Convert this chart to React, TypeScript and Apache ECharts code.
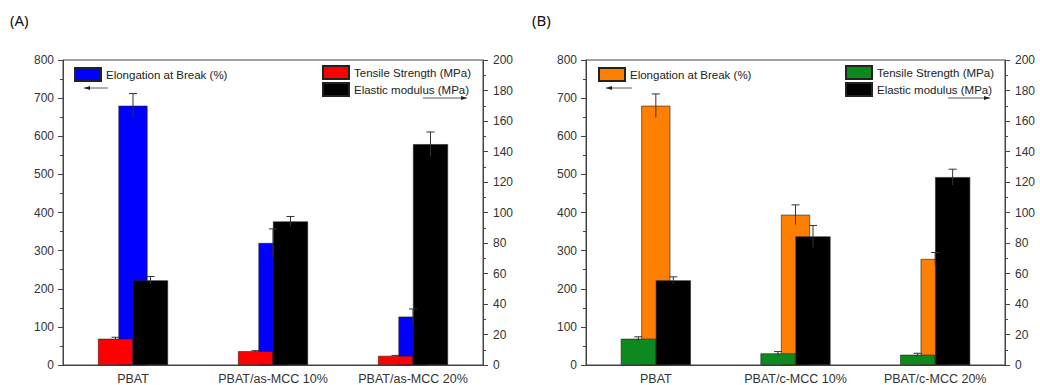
import React, { useEffect, useRef } from "react";
import * as echarts from "echarts";

const categoriesA = ["PBAT", "PBAT/as-MCC 10%", "PBAT/as-MCC 20%"];
const categoriesB = ["PBAT", "PBAT/c-MCC 10%", "PBAT/c-MCC 20%"];

const elongationA = [680, 320, 127];
const elongationAErr = [32, 37, 20];
const tensileA = [17.2, 9.0, 6.0];
const tensileAErr = [1.0, 0.4, 0.3];
const modulusA = [55.5, 94.1, 144.8];
const modulusAErr = [2.5, 3.3, 8.0];

const elongationB = [680, 394, 278];
const elongationBErr = [31, 26, 17];
const tensileB = [17.2, 7.6, 6.7];
const tensileBErr = [1.3, 1.2, 1.0];
const modulusB = [55.5, 84.3, 123.2];
const modulusBErr = [2.3, 7.2, 5.2];

const leftTicks = { min: 0, max: 800, interval: 100 };
const rightTicks = { min: 0, max: 200, interval: 20 };

const FONT = "Liberation Sans, Arial, sans-serif";
const AXIS_COLOR = "#444";
const TEXT_COLOR = "#333";

type PanelProps = {
  label: string;
  categories: string[];
  elong: number[];
  elongErr: number[];
  tensile: number[];
  tensileErr: number[];
  modulus: number[];
  modulusErr: number[];
  elongColor: string;
  tensileColor: string;
  gridLeft: number;
  gridRight: number;
  leg1Left: number;
  leg2Left: number;
  labelLeft: number;
  arrowL: [number, number];
  arrowR: [number, number];
  offsetLeft: number;
};

function errorSeries(
  values: number[],
  errs: number[],
  xAxisIndex: number,
  yAxisIndex: number,
  offset: number
) {
  return {
    type: "custom",
    xAxisIndex,
    yAxisIndex,
    z: 5,
    silent: true,
    encode: { x: 0, y: 1 },
    data: values.map((v, i) => [i, v, errs[i]]),
    renderItem: (params: any, api: any) => {
      const x = api.value(0);
      const y = api.value(1);
      const e = api.value(2);
      const top = api.coord([x, y + e]);
      const bot = api.coord([x, y - e]);
      const cx = top[0] + offset;
      const style = { stroke: "#333", lineWidth: 1 };
      return {
        type: "group",
        children: [
          { type: "line", shape: { x1: cx, y1: top[1], x2: cx, y2: bot[1] }, style },
          { type: "line", shape: { x1: cx - 4, y1: top[1], x2: cx + 4, y2: top[1] }, style },
        ],
      };
    },
  };
}

function arrow(x1: number, x2: number, y: number, dir: "left" | "right") {
  const tip = dir === "left" ? x1 : x2;
  const back = dir === "left" ? tip + 6 : tip - 6;
  return [
    {
      type: "line",
      shape: { x1, y1: y, x2, y2: y },
      style: { stroke: "#333", lineWidth: 0.8 },
      z: 10,
    },
    {
      type: "polygon",
      shape: { points: [[tip, y], [back, y - 2], [back, y + 2]] },
      style: { fill: "#222" },
      z: 10,
    },
  ];
}

function Panel(p: PanelProps) {
  const ref = useRef<HTMLDivElement>(null);
  useEffect(() => {
    if (!ref.current) return;
    const chart = echarts.init(ref.current, undefined, { renderer: "svg" });
    const axisLabel = { color: TEXT_COLOR, fontSize: 12, fontFamily: FONT };
    const border = { borderColor: "#222", borderWidth: 0.6 };
    const legendText = { color: "#222", fontSize: 11.5, fontFamily: FONT };
    chart.setOption({
      animation: false,
      backgroundColor: "#fff",
      grid: {
        left: p.gridLeft,
        right: p.gridRight,
        top: 60,
        bottom: 19.5,
        show: true,
        borderColor: AXIS_COLOR,
        borderWidth: 1,
      },
      legend: [
        {
          data: ["Elongation at Break (%)"],
          left: p.leg1Left,
          top: 67,
          padding: 0,
          itemWidth: 26,
          itemHeight: 13,
          itemGap: 2,
          icon: "rect",
          textStyle: legendText,
          selectedMode: false,
        },
        {
          data: ["Tensile Strength (MPa)", "Elastic modulus (MPa)"],
          orient: "vertical",
          left: p.leg2Left,
          top: 65,
          padding: 0,
          itemWidth: 26,
          itemHeight: 13,
          itemGap: 2,
          icon: "rect",
          textStyle: legendText,
          selectedMode: false,
        },
      ],
      graphic: [
        {
          type: "text",
          left: p.labelLeft,
          top: 12,
          style: { text: p.label, fontSize: 15, fontFamily: "Noto Sans, sans-serif", fill: "#111" },
        },
        ...arrow(p.arrowL[0], p.arrowL[1], 88, "left"),
        ...arrow(p.arrowR[0], p.arrowR[1], 98, "right"),
      ],
      xAxis: [
        {
          type: "category",
          data: p.categories,
          boundaryGap: true,
          axisTick: { show: false },
          axisLine: { lineStyle: { color: AXIS_COLOR, width: 1 } },
          axisLabel: { ...axisLabel, fontSize: 12.5, margin: 7, interval: 0, hideOverlap: false },
        },
        {
          type: "category",
          data: p.categories,
          show: false,
        },
      ],
      yAxis: [
        {
          type: "value",
          position: "left",
          ...leftTicks,
          splitLine: { show: false },
          axisLine: { show: true, lineStyle: { color: AXIS_COLOR } },
          axisTick: { show: true, length: 5, lineStyle: { color: AXIS_COLOR } },
          minorTick: { show: true, splitNumber: 2, length: 3, lineStyle: { color: AXIS_COLOR } },
          axisLabel: { ...axisLabel, margin: 9 },
        },
        {
          type: "value",
          position: "right",
          ...rightTicks,
          splitLine: { show: false },
          axisLine: { show: true, lineStyle: { color: AXIS_COLOR } },
          axisTick: { show: true, length: 5, lineStyle: { color: AXIS_COLOR } },
          minorTick: { show: true, splitNumber: 2, length: 3, lineStyle: { color: AXIS_COLOR } },
          axisLabel: { ...axisLabel, margin: 10 },
        },
      ],
      series: [
        {
          name: "Elongation at Break (%)",
          type: "bar",
          xAxisIndex: 1,
          yAxisIndex: 0,
          barWidth: 29,
          z: 1,
          data: p.elong,
          itemStyle: { color: p.elongColor, ...border },
        },
        {
          name: "Tensile Strength (MPa)",
          type: "bar",
          xAxisIndex: 0,
          yAxisIndex: 1,
          barWidth: 35,
          barGap: "0%",
          z: 2,
          data: p.tensile,
          itemStyle: { color: p.tensileColor, ...border },
        },
        {
          name: "Elastic modulus (MPa)",
          type: "bar",
          xAxisIndex: 0,
          yAxisIndex: 1,
          barWidth: 35,
          barGap: "0%",
          z: 2,
          data: p.modulus,
          itemStyle: { color: "#000", ...border },
        },
        errorSeries(p.elong, p.elongErr, 1, 0, 0),
        errorSeries(p.tensile, p.tensileErr, 0, 1, -17.5),
        errorSeries(p.modulus, p.modulusErr, 0, 1, 17.5),
      ],
    });
    return () => chart.dispose();
  }, []);
  return (
    <div
      ref={ref}
      style={{ position: "absolute", left: p.offsetLeft, top: 0, width: 520, height: 385 }}
    />
  );
}

export default function App() {
  return (
    <div style={{ position: "fixed", left: 0, top: 0, width: 1040, height: 385, background: "#fff" }}>
      <Panel
        label="(A)"
        categories={categoriesA}
        elong={elongationA}
        elongErr={elongationAErr}
        tensile={tensileA}
        tensileErr={tensileAErr}
        modulus={modulusA}
        modulusErr={modulusAErr}
        elongColor="#0000FF"
        tensileColor="#FF0000"
        gridLeft={63}
        gridRight={37}
        leg1Left={74}
        leg2Left={322}
        labelLeft={10}
        arrowL={[84, 108]}
        arrowR={[423, 467]}
        offsetLeft={0}
      />
      <Panel
        label="(B)"
        categories={categoriesB}
        elong={elongationB}
        elongErr={elongationBErr}
        tensile={tensileB}
        tensileErr={tensileBErr}
        modulus={modulusB}
        modulusErr={modulusBErr}
        elongColor="#FF8000"
        tensileColor="#0C8A1E"
        gridLeft={66}
        gridRight={35}
        leg1Left={78}
        leg2Left={325}
        labelLeft={12}
        arrowL={[86, 112]}
        arrowR={[428, 470]}
        offsetLeft={520}
      />
    </div>
  );
}
